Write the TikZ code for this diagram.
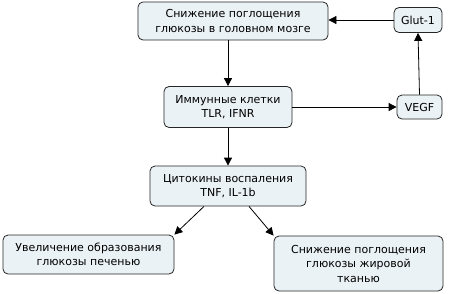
\documentclass[tikz,border=0pt]{standalone}
\usepackage{fontspec}
\setmainfont{DejaVu Sans}
\usetikzlibrary{arrows.meta}
\definecolor{boxfill}{HTML}{EBF2F6}
\tikzset{
  box/.style={draw=black!85, fill=boxfill, rounded corners=5pt, align=center,
    inner sep=2pt, line width=0.8pt, font=\fontsize{11}{14.5}\selectfont},
  link/.style={-{Triangle[length=8pt,width=8pt]}, line width=0.8pt}
}

\begin{document}
\begin{tikzpicture}[x=1pt,y=-1pt]
        \useasboundingbox (0,0) rectangle (450,293);
        % boxes
        \node [box, minimum width=190pt, minimum height=38pt] (brain) at (233,21) {Снижение поглощения\\глюкозы в головном мозге};
        \node [box, minimum width=48pt, minimum height=25pt] (glut) at (418,20) {Glut-1};
        \node [box, minimum width=128pt, minimum height=41pt] (immune) at (228,107) {Иммунные клетки\\TLR, IFNR};
        \node [box, minimum width=45pt, minimum height=24pt] (vegf) at (419.5,107) {VEGF};
        \node [box, minimum width=156pt, minimum height=40pt] (cyto) at (228,186) {Цитокины воспаления\\TNF, IL-1b};
        \node [box, minimum width=171pt, minimum height=39pt] (liver) at (88.5,254.5) {Увеличение образования\\глюкозы печенью};
        \node [box, minimum width=169pt, minimum height=55pt] (fat) at (358.5,263.5) {Снижение поглощения\\глюкозы жировой\\тканью};

        % arrows
        \draw [link] (immune.north |- brain.south) -- (immune.north);
        \draw [link] (immune.east) -- (vegf.west);
        \draw [link] (vegf.north) -- (glut.south);
        \draw [link] (glut.west) -- (glut.west -| brain.east);
        \draw [link] (immune) -- (cyto);
        \draw [link] ([xshift=-24pt]cyto.south) -- (liver.north east);
        \draw [link] ([xshift=21pt]cyto.south) -- (fat.north west);
    \end{tikzpicture}
\end{document}
